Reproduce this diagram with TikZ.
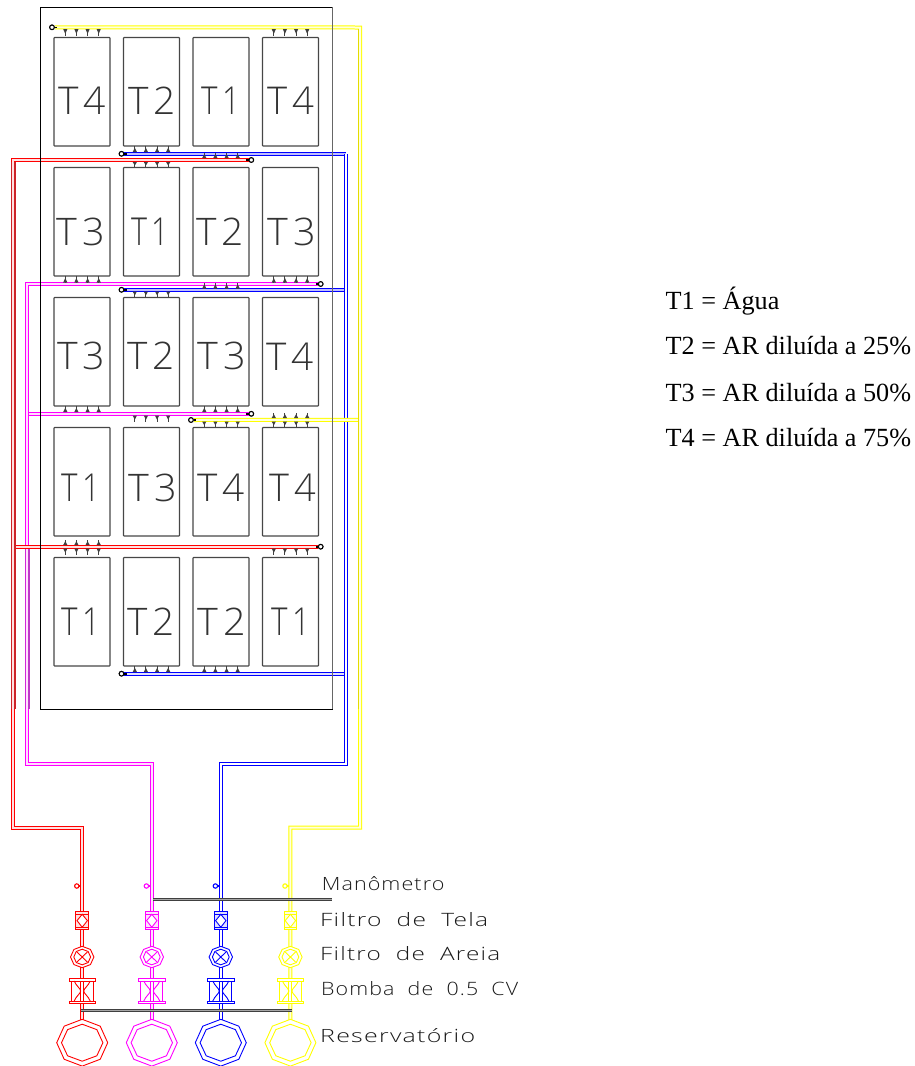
\documentclass[tikz,border=0pt]{standalone}
\usepackage{fontspec}
\usepackage{graphicx}
\setmainfont{Liberation Serif}
\newfontfamily\cad[LetterSpace=12]{Open Sans Light}
\newfontfamily\cadL[LetterSpace=5,WordSpace=2]{Open Sans Light}
\newcommand{\fitT}[2]{\resizebox{#1pt}{27.5pt}{\cad #2}}
\newcommand{\fitL}[2]{\resizebox{#1pt}{14pt}{\fontsize{18}{20}\cadL #2}}
\newcommand{\octa}[5]{%
  \draw[#1] (#2,#3-#5) -- (#2+0.707*#4,#3-0.707*#5) -- (#2+#4,#3) -- (#2+0.707*#4,#3+0.707*#5)
    -- (#2,#3+#5) -- (#2-0.707*#4,#3+0.707*#5) -- (#2-#4,#3) -- (#2-0.707*#4,#3-0.707*#5) -- cycle;}
\definecolor{boxgray}{RGB}{70,70,70}
\definecolor{pipeR}{RGB}{255,0,0}
\definecolor{pipeM}{RGB}{255,0,255}
\definecolor{pipeB}{RGB}{0,0,255}
\definecolor{pipeY}{RGB}{255,255,0}
\definecolor{darkred}{RGB}{205,35,40}
\definecolor{darkmag}{RGB}{190,55,200}
\definecolor{darkyel}{RGB}{228,220,0}
\tikzset{
  pipeline/.style={line width=1pt,draw=#1,double=#1!12,double distance=2pt,line join=miter},
  tankbox/.style={draw=boxgray,line width=1.1pt,rounded corners=0.6pt,minimum width=56pt,minimum height=108.5pt,inner sep=0pt},
  tanklabel/.style={inner sep=0pt,text=black!80},
  endcap/.style={circle,draw=black,fill=white,line width=1pt,inner sep=0pt,minimum size=4.6pt},
  caption/.style={anchor=base west,inner sep=0pt,text=black!90},
  legend/.style={anchor=base west,inner sep=0pt,font=\fontsize{26.2}{30}\selectfont},
  bar/.style={line width=1pt,draw=black!75,double=black!35,double distance=1.2pt},
}
\begin{document}
\begin{tikzpicture}[x=1pt,y=-1pt]
\useasboundingbox (0,0) rectangle (915,1066);
% free coordinates
\coordinate (yTop) at (360,27.5);
\coordinate (yLow) at (360,827.5);
\coordinate (yIn) at (290.4,827.5);
\coordinate (yEnd) at (290.4,1020);
\coordinate (yB) at (360,419.8);
\coordinate (bTop) at (345.8,153.8);
\coordinate (bLow) at (345.8,764);
\coordinate (bIn) at (220.8,764);
\coordinate (bEnd) at (220.8,1020);
\coordinate (bB2) at (345.8,289.8);
\coordinate (bB3) at (345.8,673.7);
\coordinate (rTop) at (13.2,160);
\coordinate (rLow) at (13.2,827.5);
\coordinate (rIn) at (82.2,827.5);
\coordinate (rEnd) at (82.2,1020);
\coordinate (rB) at (13.2,546.7);
\coordinate (mTop) at (27.2,284);
\coordinate (mLow) at (27.2,764);
\coordinate (mIn) at (151.8,764);
\coordinate (mEnd) at (151.8,1020);
\coordinate (mB) at (27.2,413.8);
% pipe end caps (positions)
\node[endcap] (yc1) at (52,27.3) {};
\node[endcap] (yc2) at (191,420) {};
\node[endcap] (bc1) at (121.5,153.8) {};
\node[endcap] (bc2) at (121.5,289.8) {};
\node[endcap] (bc3) at (121.5,673.7) {};
\node[endcap] (rc1) at (251.3,160) {};
\node[endcap] (rc2) at (320.7,546.7) {};
\node[endcap] (mc1) at (320.7,284) {};
\node[endcap] (mc2) at (251.3,413.8) {};
% magenta
\draw[pipeline=pipeM] (mB) -- (mc2);
\draw[pipeline=pipeM] (mc1) -- (mTop) -- (mLow) -- (mIn) -- (mEnd);
\draw[line width=1.6pt,darkmag] (28.8,548) -- (28.8,709);
\draw[line width=1pt,darkmag!70!pipeM] (25.7,548) -- (25.7,709);
% red
\draw[pipeline=pipeR] (rB) -- (rc2);
\draw[pipeline=pipeR] (rc1) -- (rTop) -- (rLow) -- (rIn) -- (rEnd);
\draw[line width=1pt,darkred] (11.7,161.5) -- (11.7,709);
\draw[line width=1.5pt,darkred] (14.8,161.5) -- (14.8,709);
% blue
\draw[pipeline=pipeB,double=pipeB!25] (bc2) -- (bB2);
\draw[pipeline=pipeB] (bc3) -- (bB3);
\draw[pipeline=pipeB,double=pipeB!25] (bc1) -- (bTop);
\draw[pipeline=pipeB,double=white] (bTop) -- (bLow) -- (bIn) -- (bEnd);
% yellow
\draw[pipeline=pipeY] (yc2) -- (yB);
\draw[pipeline=pipeY] (yc1) -- (yTop) -- (yLow) -- (yIn) -- (yEnd);
\draw[line width=1.2pt,darkyel] (358.8,29) -- (358.8,709);
% frame
\node[draw=black,line width=0.9pt,inner sep=0pt,minimum width=291.5pt,minimum height=701.5pt] (frame) at (186.25,358.25) {};
\draw[line width=1.2pt,black!60] (frame.north east) -- (frame.south east);
% tanks
\foreach \nm/\cx/\cy in {
 a1/82/91.75,a2/151.5/91.75,a3/221/91.75,a4/290.5/91.75,
 b1/82/221.75,b2/151.5/221.75,b3/221/221.75,b4/290.5/221.75,
 c1/82/351.75,c2/151.5/351.75,c3/221/351.75,c4/290.5/351.75,
 d1/82/481.75,d2/151.5/481.75,d3/221/481.75,d4/290.5/481.75,
 e1/82/611.75,e2/151.5/611.75,e3/221/611.75,e4/290.5/611.75}
 \node[tankbox] (tank\nm) at (\cx,\cy) {};
% tank labels
\foreach \nm/\cx/\cy/\w/\t in {
 a1/82.4/100.3/47.3/T4,a2/152.4/100.3/47.3/T2,a3/221/100.3/38/T1,a4/291/100.3/46.5/T4,
 b1/80.7/231.5/48/T3,b2/150.5/231.5/37/T1,b3/220.4/231.5/47.3/T2,b4/291.7/231.5/48/T3,
 c1/80.9/355.5/47.7/T3,c2/151.5/355.5/47/T2,c3/222/355.5/48/T3,c4/290.5/356.7/47/T4,
 d1/81/488/38/T1,d2/153/488/48/T3,d3/221.5/488/47/T4,d4/293/488/46/T4,
 e1/81/621.5/38/T1,e2/151.5/621.5/47/T2,e3/222/621.5/48/T2,e4/291/621.5/38/T1}
 \node[tanklabel] (lab\nm) at (\cx,\cy) {\fitT{\w}{\t}};
% inlet ticks
\foreach \c/\a/\b in {54/29/36,262.5/29/36,123.5/152/146,193/158/152.5,123.5/162/167,
 54/282.5/276,262.5/282.5/276,193/288.5/282.5,123.5/291.5/297,54/412/406,193/412/406,
 123.5/415.5/421.5,193/421.5/427,262.5/418/412.5,262.5/421.5/427,
 54/545/539.5,54/548.5/554.5,262.5/548.5/554.5,123.5/672/666,193/672/666}
 \foreach \o in {11.3,22.4,33.6,44.7}{
   \pgfmathsetmacro{\xx}{\c+\o}
   \pgfmathsetmacro{\tip}{\a+0.7*(\b-\a)}
   \draw[line width=1pt,black!75] (\xx,\a) -- (\xx,\b);
   \fill[black!75] (\xx-2.1,\a) -- (\xx+2.1,\a) -- (\xx,\tip) -- cycle;
 }
% stubs beside the end caps
\foreach \nm/\sx in {yc1/1,yc2/1,bc1/1,bc2/1,bc3/1,rc1/-1,rc2/-1,mc1/-1,mc2/-1}
 \draw[line width=1.6pt,black] (\nm) -- ++(\sx*5,0);
\foreach \nm in {yc1,yc2,bc1,bc2,bc3,rc1,rc2,mc1,mc2}
 \node[endcap] at (\nm) {};
% equipment
\foreach \nm/\cx/\col in {r/82.2/pipeR,m/151.8/pipeM,b/220.8/pipeB,y/290.4/pipeY}{
 \begin{scope}[line width=0.9pt,color=\col]
  % manometer
  \coordinate (man\nm) at (\cx-5.4,886);
  \draw[line width=1.3pt] (man\nm) -- ++(4,0);
  \node[circle,draw=\col,fill=white,line width=1.1pt,inner sep=0pt,minimum size=4.4pt] (gauge\nm) at (man\nm) {};
  % screen filter
  \node[draw=\col,fill=\col!12,line width=0.9pt,inner sep=0pt,minimum width=12.6pt,minimum height=17.4pt] (screen\nm) at (\cx,920.6) {};
  \draw (\cx-6.3,914) -- (\cx+6.3,914) (\cx-6.3,927) -- (\cx+6.3,927);
  \draw[fill=white] (\cx,914.3) -- (\cx+5.2,920.6) -- (\cx,927.2) -- (\cx-5.2,920.6) -- cycle;
  % sand filter
  \octa{fill=white}{\cx}{957}{11.7}{10.7}
  \octa{}{\cx}{957}{8.4}{7.8}
  \draw (\cx-5.2,952) -- (\cx+5.2,962) (\cx-5.2,962) -- (\cx+5.2,952);
  % pump
  \draw[fill=white] (\cx-11,981) rectangle (\cx+11,1001);
  \draw[fill=white] (\cx-13.2,978.5) rectangle (\cx+13.2,981.2);
  \draw[fill=white] (\cx-13.2,1001) rectangle (\cx+13.2,1003.7);
  \draw (\cx-1.5,981) -- (\cx-1.5,1001) (\cx+1.5,981) -- (\cx+1.5,1001);
  \draw (\cx-8,981) .. controls (\cx-6,986) and (\cx-2,988) .. (\cx-1.5,991) .. controls (\cx-2,994) and (\cx-6,996) .. (\cx-8,1001);
  \draw (\cx+8,981) .. controls (\cx+6,986) and (\cx+2,988) .. (\cx+1.5,991) .. controls (\cx+2,994) and (\cx+6,996) .. (\cx+8,1001);
  % reservoir
  \octa{fill=white}{\cx}{1042.7}{25.5}{23.4}
  \octa{}{\cx}{1042.7}{20.7}{18.5}
 \end{scope}
}
% bars
\coordinate (barA) at (153.3,899.8);
\coordinate (barB) at (331.5,899.8);
\coordinate (barC) at (81,1010.8);
\coordinate (barD) at (291.7,1010.8);
\draw[bar] (barA) -- (barB);
\draw[bar] (barC) -- (barD);
% captions
\node[caption] (capM) at (321.7,890) {\fitL{122.5}{Manômetro}};
\node[caption] (capF) at (320,926.7) {\fitL{168}{Filtro de Tela}};
\node[caption] (capA) at (320,960) {\fitL{180}{Filtro de Areia}};
\node[caption] (capB) at (321,995) {\fitL{197}{Bomba de 0.5 CV}};
\node[caption] (capR) at (320,1042.7) {\fitL{155}{Reservatório}};
% legend
\node[legend] (leg1) at (665.5,309) {T1 = Água};
\node[legend] (leg2) at (665.5,354.5) {T2 = AR diluída a 25\%};
\node[legend] (leg3) at (665.5,401) {T3 = AR diluída a 50\%};
\node[legend] (leg4) at (665.5,446) {T4 = AR diluída a 75\%};
\end{tikzpicture}
\end{document}
